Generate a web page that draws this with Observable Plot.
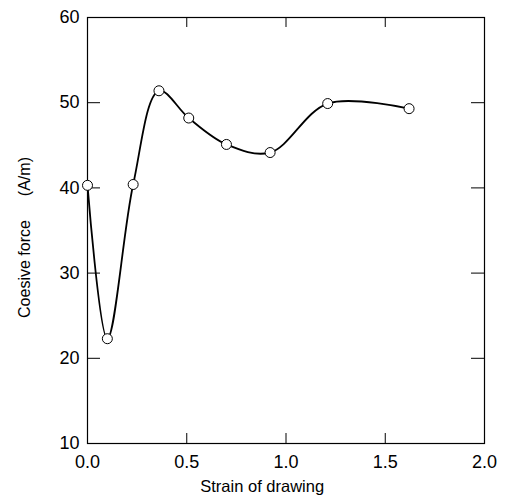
<!DOCTYPE html>
<html><head><meta charset="utf-8">
<script src="https://cdn.jsdelivr.net/npm/d3@7"></script>
<script src="https://cdn.jsdelivr.net/npm/@observablehq/plot@0.6"></script>
<style>body{margin:0;background:#fff}</style>
</head><body><div id="chart"></div>
<script>
const strain = [0.0, 0.10, 0.23, 0.36, 0.51, 0.70, 0.92, 1.21, 1.62];
const force = [40.3, 22.3, 40.4, 51.4, 48.2, 45.1, 44.15, 49.9, 49.3];
const xTickLabels = [0, 0.5, 1.0, 1.5, 2.0];
const yTickLabels = [10, 20, 30, 40, 50, 60];
const xInnerTicks = [0.5, 1.0, 1.5];
const yInnerTicks = [20, 30, 40, 50];
const xTitle = "Strain of drawing";
const yTitle = "Coesive force\u2003\u2002(A/m)";

const data = strain.map((x, i) => ({x, y: force[i]}));
const font = "'Liberation Sans', Arial, Helvetica, sans-serif";

const chart = Plot.plot({
  width: 505,
  height: 502,
  marginLeft: 87,
  marginRight: 21,
  marginTop: 17,
  marginBottom: 59,
  style: {fontFamily: font, background: "#fff", color: "#000"},
  x: {domain: [0, 2]},
  y: {domain: [10, 60]},
  marks: [
    Plot.frame({stroke: "#000", strokeWidth: 1.2}),
    Plot.axisX(xTickLabels, {anchor: "bottom", tickSize: 0, tickPadding: 12, fontSize: 18, tickFormat: d => d.toFixed(1), label: null}),
    Plot.axisY(yTickLabels, {anchor: "left", tickSize: 0, tickPadding: 8, fontSize: 18, tickFormat: d => String(d), label: null}),
    Plot.tickX(xInnerTicks, {x: d => d, insetTop: 416, stroke: "#000"}),
    Plot.tickX(xInnerTicks, {x: d => d, insetBottom: 416, stroke: "#000"}),
    Plot.tickY(yInnerTicks, {y: d => d, insetRight: 384, stroke: "#000"}),
    Plot.tickY(yInnerTicks, {y: d => d, insetLeft: 384, stroke: "#000"}),
    Plot.line(data, {x: "x", y: "y", curve: "catmull-rom", stroke: "#000", strokeWidth: 1.8}),
    Plot.dot(data, {x: "x", y: "y", r: 5, fill: "#fff", stroke: "#000", strokeWidth: 1}),
    Plot.text([xTitle], {text: d => d, x: [0.88], frameAnchor: "bottom", dy: 48, fontSize: 16.5}),
    Plot.text([yTitle], {text: d => d, frameAnchor: "left", textAnchor: "middle", rotate: -90, dx: -63, dy: 7, fontSize: 16})
  ]
});
document.getElementById("chart").appendChild(chart);
</script>
</body></html>
